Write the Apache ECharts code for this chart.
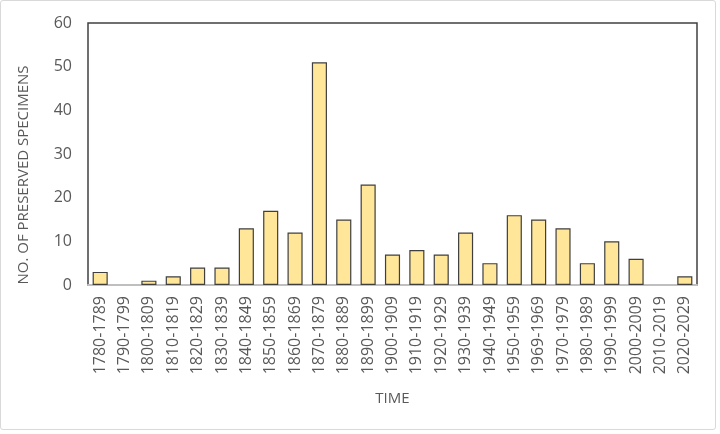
<!DOCTYPE html>
<html>
<head>
<meta charset="utf-8">
<script src="https://cdn.jsdelivr.net/npm/echarts@6/dist/echarts.min.js"></script>
<style>
html,body{margin:0;padding:0;background:#fff;}
#frame{position:absolute;left:0;top:0;width:714px;height:428px;border:1px solid #d9d9d9;border-radius:3px;}
#chart{position:absolute;left:0;top:0;width:720px;height:434px;}
</style>
</head>
<body>
<div id="frame"></div>
<div id="chart"></div>
<script>
var periods=["1780-1789","1790-1799","1800-1809","1810-1819","1820-1829","1830-1839","1840-1849","1850-1859","1860-1869","1870-1879","1880-1889","1890-1899","1900-1909","1910-1919","1920-1929","1930-1939","1940-1949","1950-1959","1969-1969","1970-1979","1980-1989","1990-1999","2000-2009","2010-2019","2020-2029"];
var specimens=[3,0,1,2,4,4,13,17,12,51,15,23,7,8,7,12,5,16,15,13,5,10,6,0,2];
var yTicks=[0,10,20,30,40,50,60];

var font='Open Sans';
// empty bars (0) get no border, like the original
var barData=specimens.map(function(v){
    return v===0?{value:v,itemStyle:{borderWidth:0}}:v;
});
var chart=echarts.init(document.getElementById("chart"));
chart.setOption({
    animation:false,
    grid:{left:88,top:23,right:23,bottom:149,show:true,borderColor:'#404040',borderWidth:1.5,backgroundColor:'transparent'},
    xAxis:{
        type:'category',
        data:periods,
        name:'TIME',
        nameLocation:'middle',
        nameGap:106,
        nameTextStyle:{fontFamily:font,fontSize:15,color:'#595959'},
        axisLine:{lineStyle:{color:'#bfbfbf',width:2}},
        axisTick:{show:false},
        axisLabel:{rotate:90,interval:0,fontFamily:font,fontSize:16,color:'#595959',margin:11}
    },
    yAxis:{
        type:'value',
        min:yTicks[0],
        max:yTicks[yTicks.length-1],
        interval:10,
        name:'NO. OF PRESERVED SPECIMENS',
        nameLocation:'middle',
        nameGap:57,
        nameTextStyle:{fontFamily:font,fontSize:15,color:'#595959',padding:[0,42,0,0]},
        axisLine:{show:false},
        axisTick:{show:false},
        splitLine:{show:false},
        axisLabel:{fontFamily:font,fontSize:16,color:'#595959',margin:16}
    },
    series:[{
        type:'bar',
        data:barData,
        barCategoryGap:'38%',
        itemStyle:{color:'#ffe699',borderColor:'#3f3f3f',borderWidth:1.2}
    }]
});
</script>
</body>
</html>
